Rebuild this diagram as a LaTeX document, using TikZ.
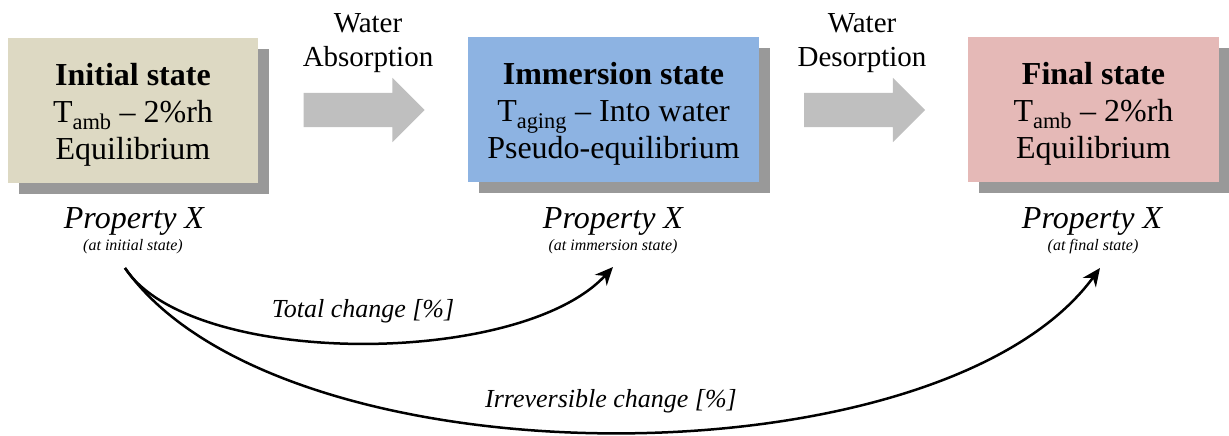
\documentclass[tikz,border=0pt]{standalone}
\usepackage{fontspec}
\setmainfont{Liberation Serif}
\usetikzlibrary{arrows.meta,shapes.arrows,shadows}
\definecolor{initcol}{HTML}{DDD9C3}
\definecolor{immcol}{HTML}{8DB3E2}
\definecolor{fincol}{HTML}{E5B9B7}
\definecolor{flowcol}{HTML}{BFBFBF}
\newcommand{\boxstrut}{\rule{0pt}{31.5pt}}

\begin{document}
\begin{tikzpicture}[x=1pt, y=-1pt,
    state/.style={align=center, inner sep=0pt, minimum height=145pt,
                  font=\fontsize{32}{37}\selectfont,
                  drop shadow={shadow xshift=11pt, shadow yshift=-11pt,
                               fill=black!40, opacity=1}},
    flow/.style={single arrow, fill=flowcol, inner xsep=0pt, inner ysep=17pt,
                 minimum height=121pt, single arrow head extend=15pt},
    flowlabel/.style={align=center, font=\fontsize{29}{34}\selectfont},
    prop/.style={anchor=base, font=\fontsize{32}{38}\selectfont\itshape},
    propsub/.style={anchor=base, font=\fontsize{16}{19}\selectfont\itshape},
    change/.style={line width=2.5pt, -{Stealth[length=18pt, width=16pt]}},
    changelabel/.style={anchor=base, font=\fontsize{26}{31}\selectfont\itshape}]
    \useasboundingbox (0,0) rectangle (1229,436);
    % Initial state
    \node[state, fill=initcol, minimum width=250pt] (initial) at (133,110.5)
        {\boxstrut\textbf{Initial state}\\T\textsubscript{amb} -- 2\%rh\\Equilibrium};
    \node[prop] (prop1) at (134,228) {Property X};
    \node[propsub] (sub1) at (133,250) {(at initial state)};
    % Absorption
    \node[flow] (absorb) at (355.5,110) {};
    \node[flowlabel] (absorbtxt) at (368,43) {Water\\Absorption};
    % Immersion state
    \node[state, fill=immcol, minimum width=291pt] (immersion) at (613.5,109.5)
        {\boxstrut\textbf{Immersion state}\\T\textsubscript{aging} -- Into water\\Pseudo-equilibrium};
    \node[prop] (prop2) at (613,228) {Property X};
    \node[propsub] (sub2) at (613,250) {(at immersion state)};
    % Desorption
    \node[flow] (desorb) at (856,110) {};
    \node[flowlabel] (desorbtxt) at (862,43) {Water\\Desorption};
    % Final state
    \node[state, fill=fincol, minimum width=251pt] (final) at (1093.5,109.5)
        {\boxstrut\textbf{Final state}\\T\textsubscript{amb} -- 2\%rh\\Equilibrium};
    \node[prop] (prop3) at (1092,228) {Property X};
    \node[propsub] (sub3) at (1093,250) {(at final state)};
    % changes
    \draw[change] ([shift={(-8,18)}]sub1.base) .. controls +(65,100) and +(-93,101) .. ([shift={(0,17)}]sub2.base);
    \draw[change] ([shift={(-8,18)}]sub1.base) .. controls +(155,219) and +(-160,219) .. ([shift={(7,18)}]sub3.base);
    \node[changelabel] (total) at (363,317) {Total change [\%]};
    \node[changelabel] (irrev) at (611,407) {Irreversible change [\%]};
\end{tikzpicture}
\end{document}
